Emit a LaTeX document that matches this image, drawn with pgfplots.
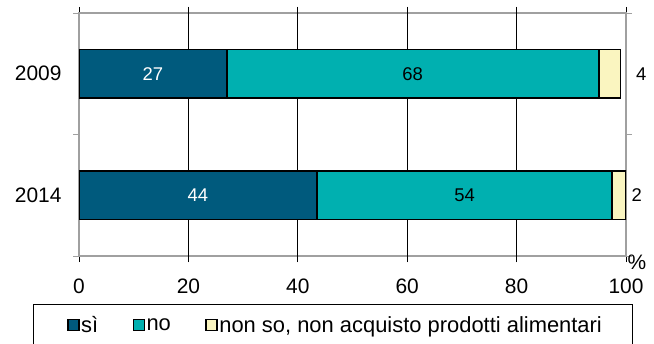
\documentclass[border=0pt]{standalone}
\usepackage{pgfplots}
\pgfplotsset{compat=1.18}
\usepackage{fontspec}
\setmainfont{Liberation Sans}
\definecolor{si}{RGB}{0,90,125}
\definecolor{nocol}{RGB}{0,176,176}
\definecolor{nonso}{RGB}{250,245,192}
\definecolor{axgrey}{RGB}{160,160,160}
\begin{document}
\begin{tikzpicture}
\begin{axis}[
  name=main,
  scale only axis, width=547bp, height=243bp,
  xbar stacked, bar width=48.6bp,
  every axis plot post/.append style={draw=black, line width=1.8bp,
    legend image code/.code={\draw[#1, draw=black, line width=1.4bp] (0bp,-5.5bp) rectangle (11bp,5.5bp);}},
  xmin=0, xmax=100, ymin=-0.5, ymax=1.5,
  axis line style={draw=axgrey, line width=1.8bp},
  xtick={0,20,40,60,80,100},
  extra x ticks={20,40,60,80}, extra x tick labels={},
  extra x tick style={grid=major, major grid style={black, line width=0.7bp}},
  ytick={-0.5,0.5,1.5}, yticklabels={},
  extra y ticks={0,1}, extra y tick labels={2014,2009},
  extra y tick style={major tick length=0pt},
  major tick length=6bp, tick align=outside,
  x tick style={black, line width=0.7bp},
  y tick style={axgrey, line width=1bp},
  tick label style={font=\fontsize{21}{25}\selectfont},
  /pgf/number format/assume math mode=true,
  xticklabel style={yshift=-13bp},
  yticklabel style={xshift=-14bp},
  legend columns=3,
  legend style={draw=none, fill=none, at={(0,0)}, anchor=west, xshift=-12bp, yshift=-69bp,
    inner sep=0pt, font=\fontsize{22}{26}\selectfont,
    nodes={inner xsep=1.5bp},
    /tikz/every even column/.append style={column sep=33bp}},
]
\addplot[fill=si] coordinates {(27,1) (43.5,0)};
\addlegendentry{sì}
\addplot[fill=nocol] coordinates {(68,1) (54,0)};
\addlegendentry{no}
\addplot[fill=nonso] coordinates {(4,1) (2.5,0)};
\addlegendentry{non so, non acquisto prodotti alimentari}
\end{axis}
\begin{axis}[
  scale only axis, width=547bp, height=243bp,
  xmin=0, xmax=100, ymin=-0.5, ymax=1.5, hide axis, clip=false,
]
\addplot[only marks, mark=none, nodes near coords, point meta=explicit symbolic,
  every node near coord/.style={anchor=center, text=white, font=\fontsize{18.5}{22}\selectfont}]
  coordinates {(13.5,1) [27] (21.75,0) [44]};
\addplot[only marks, mark=none, nodes near coords, point meta=explicit symbolic,
  every node near coord/.style={anchor=center, text=black, font=\fontsize{18.5}{22}\selectfont}]
  coordinates {(61,1) [68] (70.5,0) [54]};
\addplot[only marks, mark=none, nodes near coords, point meta=explicit symbolic,
  every node near coord/.style={anchor=west, inner sep=0pt, text=black, font=\fontsize{18.5}{22}\selectfont}]
  coordinates {(101.8,1) [4] (101,0) [2]};
\node[font=\fontsize{21}{25}\selectfont] at ([xshift=11bp, yshift=-6bp]rel axis cs:1,0) {\%};
\end{axis}
\draw[black, line width=0.8bp] (-46bp,-110bp) -- (-46bp,-48bp) -- (553bp,-48bp) -- (553bp,-110bp);
\pgfresetboundingbox
\path[use as bounding box] (-79bp,-88bp) rectangle (575bp,256bp);
\end{tikzpicture}
\end{document}
